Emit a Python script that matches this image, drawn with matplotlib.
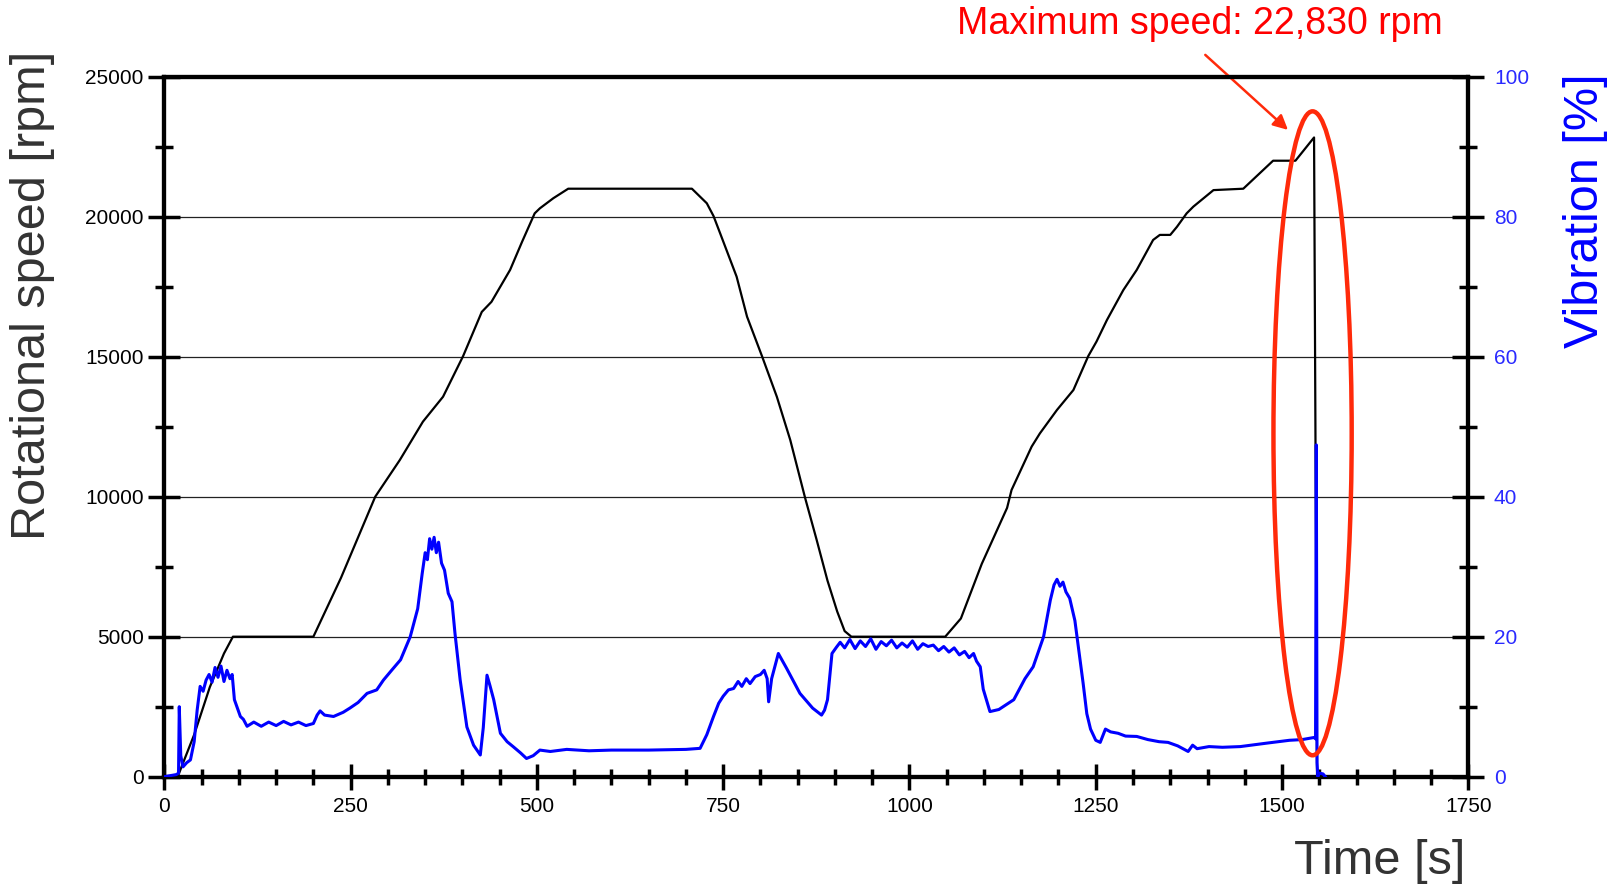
import matplotlib
matplotlib.use("Agg")
import matplotlib.pyplot as plt
from matplotlib.patches import Ellipse
from matplotlib.ticker import MultipleLocator

plt.rcParams['font.family'] = ['Liberation Sans', 'DejaVu Sans']

# rotational speed [rpm] over time [s]
speed_time = [0, 18, 23, 40, 61, 80, 92, 200, 237, 283, 316, 347, 374, 401,
              426, 439, 464, 480, 497, 504, 522, 542, 708, 728, 737, 746, 768,
              782, 802, 822, 840, 860, 875, 890, 903, 913, 922, 1048, 1069,
              1097, 1131, 1137, 1164, 1175, 1198, 1220, 1240, 1251, 1265, 1287,
              1305, 1327, 1336, 1350, 1359, 1372, 1381, 1408, 1448, 1468, 1488,
              1518, 1543, 1547]
speed_rpm = [0, 0, 350, 1500, 3200, 4400, 5000, 5000, 7100, 10000, 11310,
             12680, 13570, 15025, 16600, 16960, 18100, 19100, 20120, 20300,
             20660, 21000, 21000, 20480, 20025, 19400, 17860, 16430, 15025,
             13570, 12025, 9950, 8500, 7000, 5900, 5200, 5000, 5000, 5650,
             7600, 9600, 10240, 11790, 12260, 13100, 13810, 15025, 15540,
             16310, 17380, 18100, 19170, 19350, 19350, 19640, 20120, 20360,
             20950, 21000, 21500, 22000, 22000, 22830, 0]

# vibration [%] readings as (time [s], level [%])
vibration = [
    (0, 0), (16, 0.3), (19, 0.5), (20, 10), (22, 3), (25, 1.4), (30, 2),
    (35, 2.4), (40, 5), (44, 9.5), (48, 12.9), (52, 12.2), (56, 13.8),
    (60, 14.6), (64, 13.5), (68, 15.6), (72, 14.2), (76, 15.8), (80, 13.6),
    (84, 15.2), (88, 14), (91, 14.6), (94, 11), (98, 9.8), (102, 8.6),
    (106, 8.2), (111, 7.2), (120, 7.8), (130, 7.2), (140, 7.8), (150, 7.3),
    (160, 7.9), (170, 7.4), (180, 7.8), (190, 7.3), (200, 7.6), (205, 8.8),
    (209, 9.4), (215, 8.8), (227, 8.6), (240, 9.2), (249, 9.8), (260, 10.6),
    (272, 11.9), (285, 12.4), (294, 13.8), (305, 15.2), (317, 16.7),
    (330, 20), (340, 24), (346, 29), (350, 32), (353, 31), (356, 34),
    (359, 32.5), (362, 34.2), (365, 32), (368, 33.5), (372, 30.5),
    (376, 29.5), (381, 26.2), (386, 25), (390, 20.5), (397, 13.8),
    (406, 7.1), (415, 4.5), (424, 3.1), (428, 7), (433, 14.5), (437, 13),
    (442, 11), (451, 6.2), (460, 5), (468, 4.3), (478, 3.4), (486, 2.6),
    (495, 3), (504, 3.8), (518, 3.6), (540, 3.9), (570, 3.7), (600, 3.8),
    (650, 3.8), (700, 3.9), (719, 4.05), (728, 6), (737, 8.6), (744, 10.5),
    (750, 11.5), (757, 12.4), (764, 12.6), (770, 13.6), (775, 12.9),
    (781, 14), (786, 13.3), (793, 14.3), (800, 14.6), (805, 15.2), (809, 14),
    (811, 10.7), (815, 14), (824, 17.6), (835, 15.5), (853, 11.9),
    (870, 9.8), (882, 8.8), (886, 9.5), (890, 11), (896, 17.6), (902, 18.5),
    (907, 19.2), (913, 18.4), (920, 19.6), (927, 18.3), (934, 19.4),
    (941, 18.6), (948, 19.7), (955, 18.2), (962, 19.3), (969, 18.7),
    (976, 19.5), (983, 18.4), (990, 19.1), (997, 18.5), (1004, 19.4),
    (1011, 18.2), (1018, 19.0), (1025, 18.6), (1032, 18.8), (1039, 18.0),
    (1046, 18.6), (1053, 17.8), (1060, 18.4), (1067, 17.4), (1074, 17.9),
    (1080, 17.0), (1086, 17.6), (1090, 16.5), (1095, 15.7), (1099, 12.5),
    (1108, 9.3), (1120, 9.6), (1140, 11), (1155, 14), (1166, 15.7),
    (1180, 20), (1189, 25.2), (1194, 27.4), (1198, 28.2), (1202, 27.2),
    (1206, 27.8), (1210, 26.4), (1215, 25.5), (1222, 22.3), (1228, 17.5),
    (1233, 13.4), (1238, 9), (1243, 6.8), (1250, 5.2), (1256, 4.9),
    (1263, 6.8), (1270, 6.4), (1280, 6.2), (1290, 5.8), (1305, 5.75),
    (1320, 5.3), (1335, 5.0), (1347, 4.9), (1360, 4.4), (1374, 3.6),
    (1380, 4.5), (1386, 4.0), (1402, 4.3), (1420, 4.2), (1444, 4.3),
    (1480, 4.8), (1510, 5.2), (1527, 5.3), (1543, 5.6), (1545, 5.4),
    (1546, 47.4), (1547, 2), (1548, 0), (1550, 0.5), (1555, 0.4), (1558, 0),
]
vib_time = [t for t, _ in vibration]
vib_pct = [v for _, v in vibration]

MAX_SPEED = 22830

fig = plt.figure(figsize=(16.21, 8.91), dpi=100)
ax = fig.add_axes([0.1014, 0.1283, 0.8044, 0.7856])
ax2 = ax.twinx()

ax.plot(speed_time, speed_rpm, color='black', linewidth=1.6, zorder=3)
ax2.plot(vib_time, vib_pct, color='#0000ff', linewidth=2.2, zorder=3)

ax.set_xlim(0, 1750)
ax.set_ylim(0, 25000)
ax2.set_ylim(0, 100)

ax.xaxis.set_major_locator(MultipleLocator(250))
ax.xaxis.set_minor_locator(MultipleLocator(50))
ax.yaxis.set_major_locator(MultipleLocator(5000))
ax.yaxis.set_minor_locator(MultipleLocator(2500))
ax2.yaxis.set_major_locator(MultipleLocator(20))
ax2.yaxis.set_minor_locator(MultipleLocator(10))

ax.grid(axis='y', which='major', color='#222222', linewidth=0.9)
ax.set_axisbelow(True)

for a in (ax, ax2):
    for sp in a.spines.values():
        sp.set_linewidth(3)

ax.tick_params(axis='y', which='major', direction='inout', length=23, width=2.5,
               labelsize=15, pad=3.5)
ax.tick_params(axis='y', which='minor', direction='inout', length=13, width=2.5)
ax.tick_params(axis='x', which='major', direction='inout', length=19, width=2.5,
               labelsize=15, pad=5)
ax.tick_params(axis='x', which='minor', direction='inout', length=12, width=2.5)
ax2.tick_params(axis='y', which='major', direction='inout', length=23, width=2.5,
                labelsize=15, pad=7, labelcolor='#2a2aff')
ax2.tick_params(axis='y', which='minor', direction='inout', length=13, width=2.5)

# axis titles
fig.text(33 / 1621, 1 - 295 / 891, 'Rotational speed [rpm]', rotation=90,
         ha='center', va='center', fontsize=35, color='#333333')
fig.text(1380 / 1621, 1 - 862 / 891, 'Time [s]', ha='center', va='center',
         fontsize=35, color='#333333')
fig.text(1585 / 1621, 1 - 211 / 891, 'Vibration [%]', rotation=90,
         ha='center', va='center', fontsize=35, color='#0000ff')

# highlight of the top speed
fig.text(1200 / 1621, 1 - 24 / 891, f'Maximum speed: {MAX_SPEED:,} rpm',
         ha='center', va='center', fontsize=27, color='#ff0000')
ax.annotate('', xy=(1508, 23100), xytext=(1397, 25780),
            arrowprops=dict(arrowstyle='-|>', color='#ff2a0a', lw=1.8,
                            mutation_scale=22, shrinkA=0, shrinkB=0),
            annotation_clip=False)
ring = Ellipse((1541, 12264), width=105, height=23000, fill=False,
               edgecolor='#ff2a0a', linewidth=3.2, transform=ax.transData,
               clip_on=False, zorder=5)
ax2.add_patch(ring)

fig.savefig('out.png', dpi=100)
